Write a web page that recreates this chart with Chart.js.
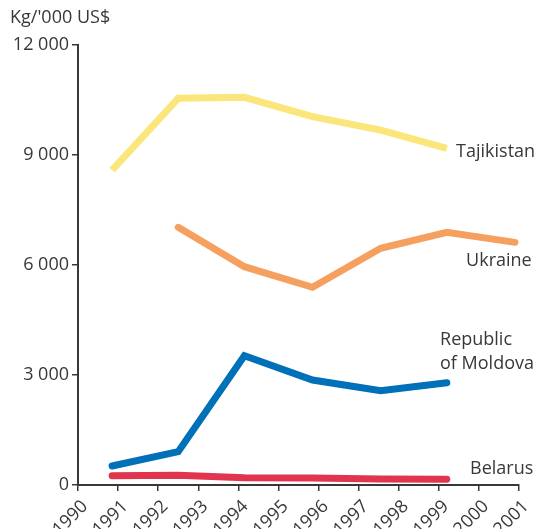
<!DOCTYPE html>
<html>
<head>
<meta charset="utf-8">
<script src="https://cdn.jsdelivr.net/npm/chart.js@4.4.1/dist/chart.umd.min.js"></script>
<style>
    html, body { margin: 0; padding: 0; background: #fff; }
    #wrap { width: 549px; height: 529px; position: relative; }
</style>
</head>
<body>
<div id="wrap"><canvas id="chart"></canvas></div>
<script>
// x positions of the points (in years)
const years = [1990.85, 1992.5, 1994.15, 1995.85, 1997.55, 1999.2, 2000.9];

const tajikistan = [8590, 10545, 10573, 10045, 9680, 9182];
const ukraine = [null, 7027, 5955, 5391, 6455, 6891, 6618];
const moldova = [518, 909, 3527, 2864, 2573, 2791];
const belarus = [255, 264, 200, 190, 164, 155];

const yTicks = [0, 3000, 6000, 9000, 12000];

// where the series names sit (x in years, y in kg)
const seriesLabels = [
    { text: ['Tajikistan'], x: 1999.43, y: 9082 },
    { text: ['Ukraine'], x: 1999.68, y: 6109 },
    { text: ['Republic', 'of Moldova'], x: 1999.03, y: 3955 },
    { text: ['Belarus'], x: 1999.78, y: 442 }
];

const textColor = '#383838';
const fontFamily = '"Open Sans", "Noto Sans", sans-serif';

function toPoints(values) {
    return values.map((v, i) => ({ x: years[i], y: v })).filter(p => p.y !== null);
}

const lineDefaults = {
    borderWidth: 7,
    pointRadius: 0,
    tension: 0,
    fill: false
};

const labelPlugin = {
    id: 'labelPlugin',
    afterDraw(chart) {
        const ctx = chart.ctx;
        const xs = chart.scales.x;
        const ys = chart.scales.y;
        ctx.save();
        ctx.fillStyle = textColor;
        ctx.font = '18px ' + fontFamily;
        ctx.textBaseline = 'middle';
        ctx.textAlign = 'left';
        seriesLabels.forEach(l => {
            const x = xs.getPixelForValue(l.x);
            const y = ys.getPixelForValue(l.y);
            l.text.forEach((line, i) => {
                ctx.fillText(line, x, y + i * 24);
            });
        });
        // unit label
        ctx.fillText("Kg/'000 US$", 10, 18);
        ctx.restore();
    }
};

const ctx = document.getElementById('chart').getContext('2d');
new Chart(ctx, {
    type: 'line',
    data: {
        datasets: [{
            label: 'Tajikistan',
            data: toPoints(tajikistan),
            borderColor: '#FBE67B',
            borderCapStyle: 'butt',
            ...lineDefaults
        },
        {
            label: 'Ukraine',
            data: toPoints(ukraine),
            borderColor: '#F6A060',
            borderCapStyle: 'round',
            ...lineDefaults
        },
        {
            label: 'Republic of Moldova',
            data: toPoints(moldova),
            borderColor: '#0070B9',
            borderCapStyle: 'round',
            ...lineDefaults
        },
        {
            label: 'Belarus',
            data: toPoints(belarus),
            borderColor: '#E1344F',
            borderCapStyle: 'round',
            ...lineDefaults
        }]
    },
    options: {
        responsive: true,
        maintainAspectRatio: false,
        animation: false,
        layout: { padding: { top: 45, right: 30, left: 0, bottom: 0 } },
        plugins: {
            legend: { display: false },
            tooltip: { enabled: false }
        },
        scales: {
            x: {
                type: 'linear',
                min: 1990,
                max: 2001,
                border: { display: true, color: textColor, width: 2 },
                grid: { drawOnChartArea: false, drawTicks: true, tickLength: 6, color: textColor, lineWidth: 1.5 },
                ticks: {
                    stepSize: 1,
                    minRotation: 45,
                    maxRotation: 45,
                    color: textColor,
                    font: { size: 18, family: fontFamily },
                    padding: 5,
                    labelOffset: 7,
                    callback: v => String(v)
                },
                afterFit: scale => { scale.height = 44; }
            },
            y: {
                min: 0,
                max: 12000,
                afterBuildTicks: scale => { scale.ticks = yTicks.map(v => ({ value: v })); },
                border: { display: true, color: textColor, width: 2 },
                grid: { drawOnChartArea: false, drawTicks: true, tickLength: 6, color: textColor, lineWidth: 1.5 },
                ticks: {
                    color: textColor,
                    font: { size: 18, family: fontFamily },
                    padding: 3,
                    callback: v => v === 0 ? '0' : (v / 1000) + ' 000'
                },
                afterFit: scale => { scale.width = 78; }
            }
        }
    },
    plugins: [labelPlugin]
});
</script>
</body>
</html>
